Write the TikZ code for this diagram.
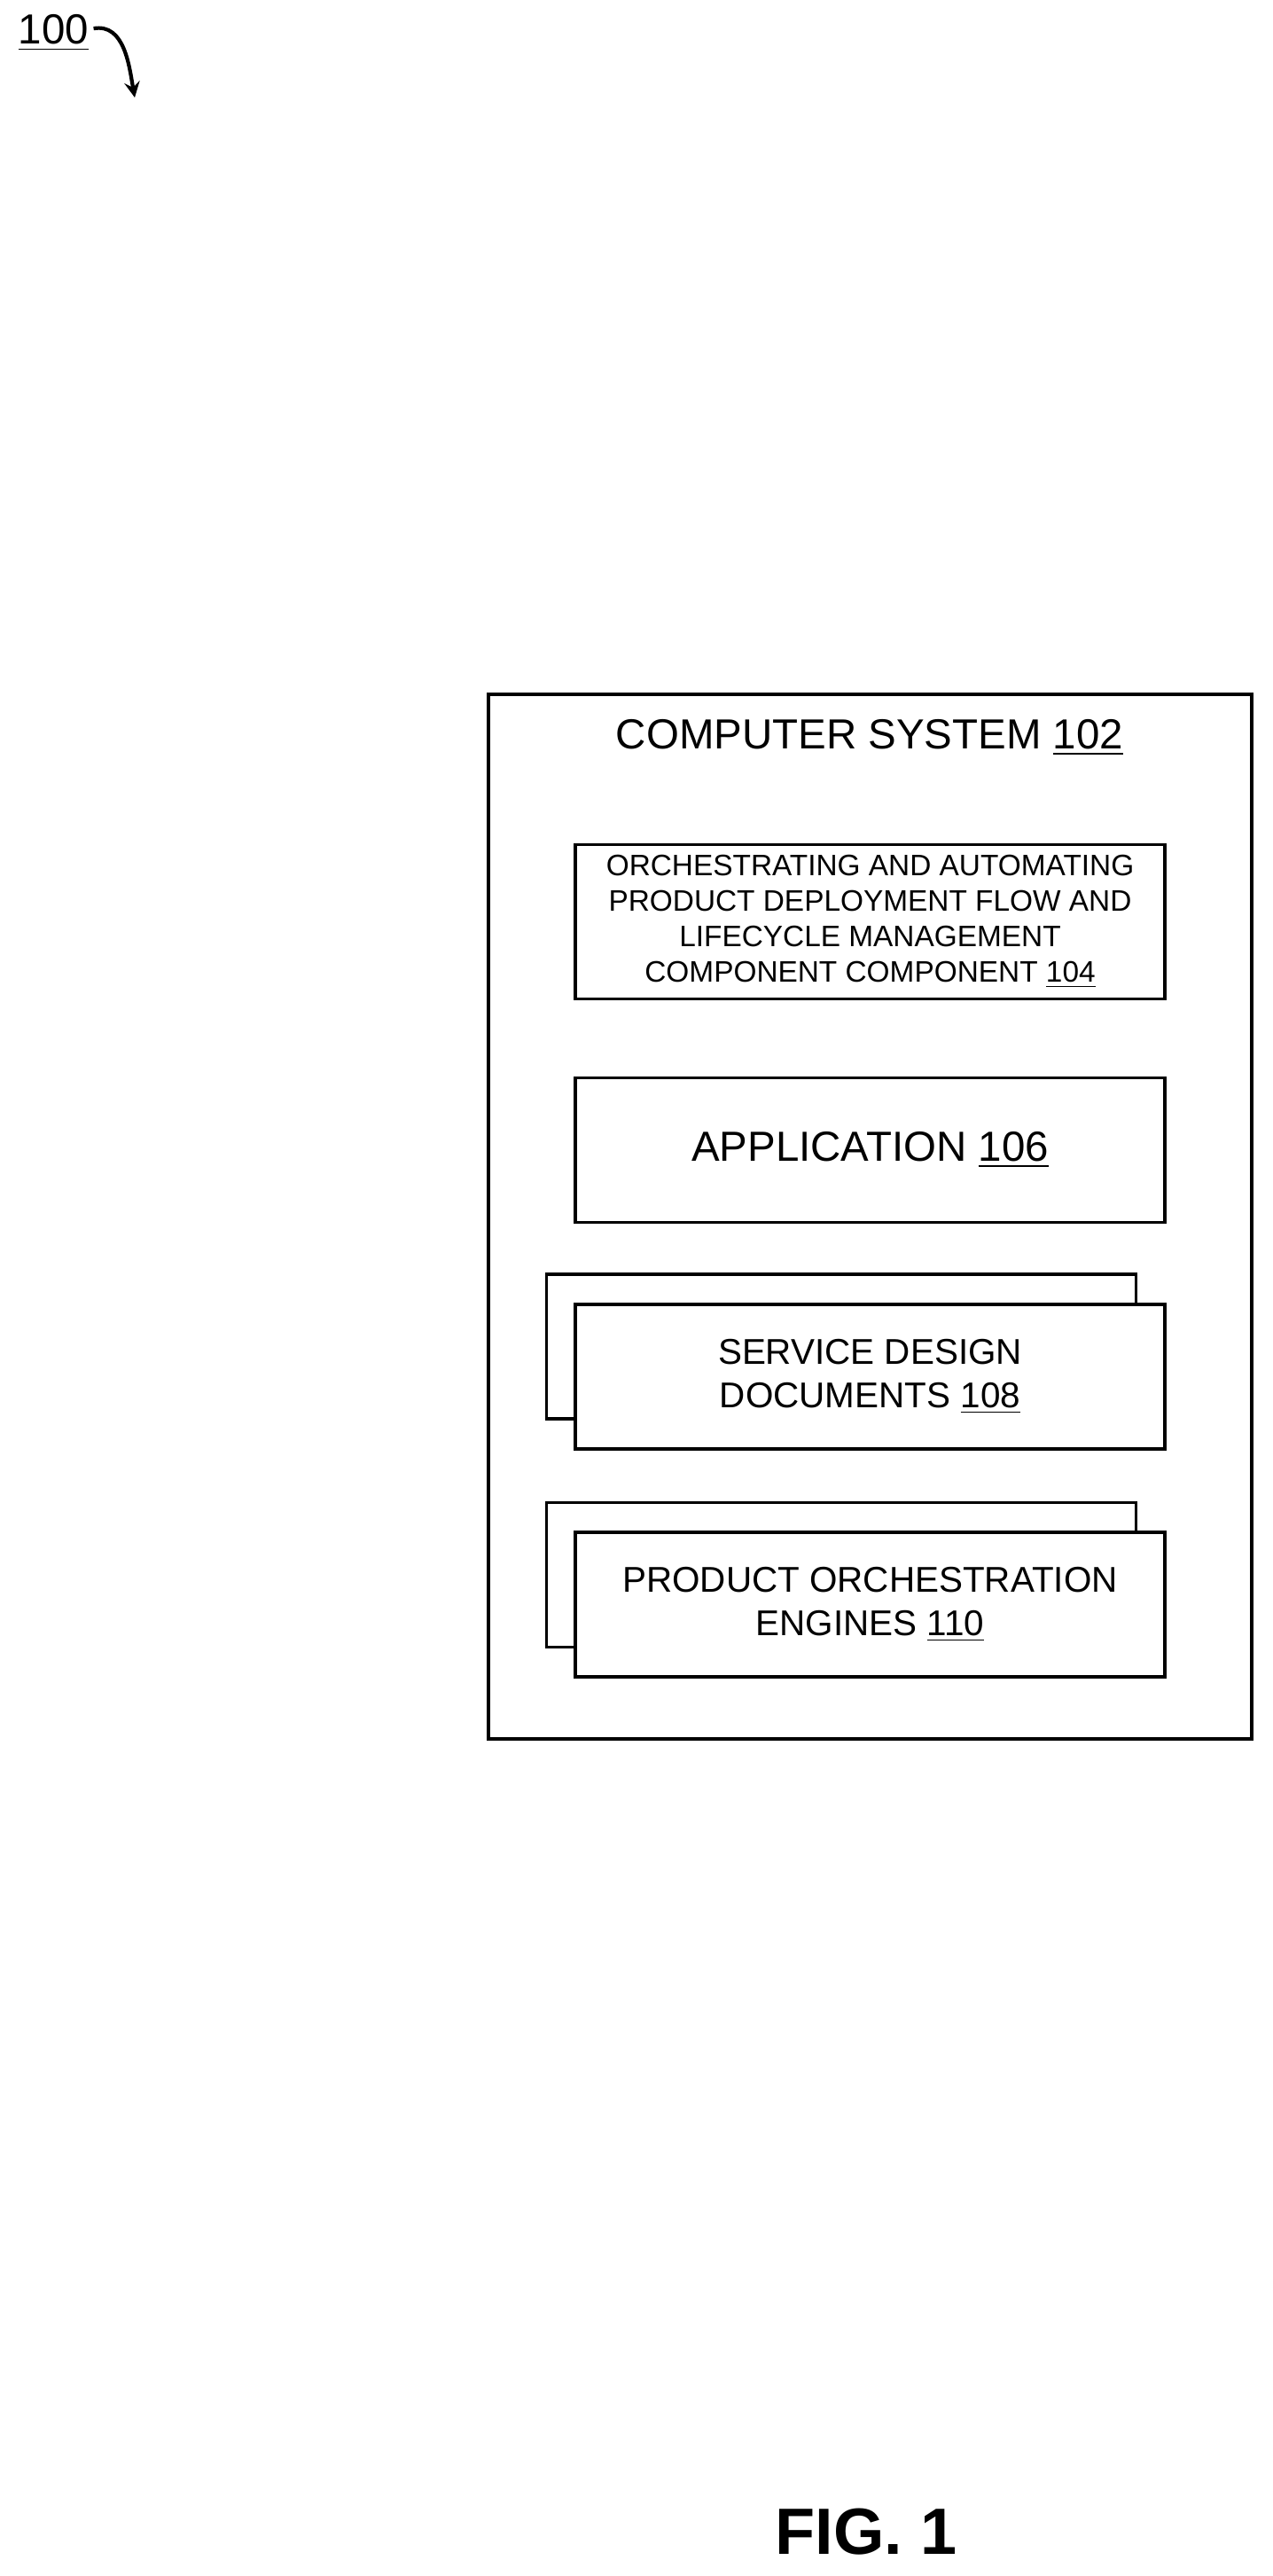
\documentclass[tikz,border=0pt]{standalone}
\usepackage{fontspec}
\setmainfont{Liberation Sans}
\usetikzlibrary{positioning}
\tikzset{
  box/.style={draw, line width=1pt, fill=white, minimum width=6.65cm, minimum height=1.63cm, align=center},
}
\begin{document}
\begin{tikzpicture}
		\useasboundingbox (0,0) rectangle (14.36,29.05);

		\node[anchor=base west, font=\fontsize{13.5}{16}\selectfont, inner sep=0pt] (ref) at (0.2,28.55) {\underline{100}};
		\coordinate (refend) at (1.52,27.95);
		\draw[-stealth, line width=1.2pt] (ref.east) ++(0.05,0.05) to[out=10, in=100] (refend);

		\node[draw, line width=1pt, minimum width=8.61cm, minimum height=11.78cm] (sys) at (9.815,15.33) {};
		\node[font=\fontsize{13.5}{16}\selectfont] (title) at (9.81,20.73) {COMPUTER SYSTEM \underline{102}};

		\node[box, font=\fontsize{9.5}{11.4}\selectfont] (comp) at (9.815,18.655) {ORCHESTRATING AND AUTOMATING\\PRODUCT DEPLOYMENT FLOW AND\\LIFECYCLE MANAGEMENT\\COMPONENT COMPONENT \underline{104}};
		\node[box, font=\fontsize{13.5}{16}\selectfont] (app) at (9.815,16.08) {APPLICATION \underline{106}};

		\node[box] (docsback) at (9.49,13.865) {};
		\node[box, font=\fontsize{11.5}{14}\selectfont] (docs) at (9.815,13.525) {SERVICE DESIGN\\DOCUMENTS \underline{108}};

		\node[box] (engback) at (9.49,11.29) {};
		\node[box, font=\fontsize{11.5}{14}\selectfont] (eng) at (9.815,10.955) {PRODUCT ORCHESTRATION\\ENGINES \underline{110}};

		\node[font=\bfseries\fontsize{21}{24}\selectfont] (fig) at (9.77,0.5) {FIG. 1};
	\end{tikzpicture}
\end{document}
